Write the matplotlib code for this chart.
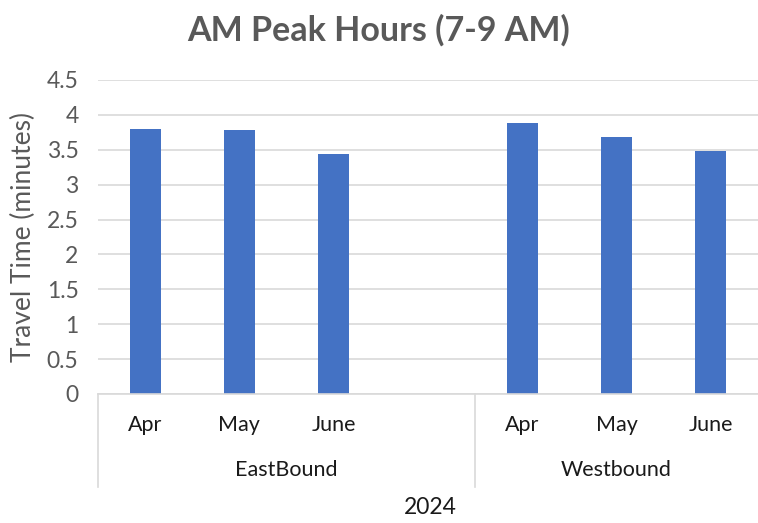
import matplotlib
matplotlib.use("Agg")
import matplotlib.pyplot as plt
import matplotlib.transforms as mtransforms
import numpy as np

plt.rcParams['font.family'] = ['Lato', 'DejaVu Sans']

title = "AM Peak Hours (7-9 AM)"
ylabel = "Travel Time (minutes)"
year = "2024"
groups = ["EastBound", "Westbound"]
month_labels = ["Apr", "May", "June", "", "Apr", "May", "June"]
group_of_slot = [0, 0, 0, 0, 1, 1, 1]
values = [3.80, 3.785, 3.44, np.nan, 3.885, 3.68, 3.48]
yticks = [0, 0.5, 1, 1.5, 2, 2.5, 3, 3.5, 4, 4.5]
ytick_labels = ["0", "0.5", "1", "1.5", "2", "2.5", "3", "3.5", "4", "4.5"]

bar_color = "#4472C4"
grid_color = "#D9D9D9"
text_gray = "#595959"
text_dark = "#1a1a1a"

W, H = 758, 523
fig = plt.figure(figsize=(W / 100, H / 100), dpi=100)
ax = fig.add_axes([98 / W, (H - 394) / H, 1 - 98 / W, (394 - 80) / H])

x = np.arange(len(month_labels))
ax.bar(x, values, width=0.33, color=bar_color, zorder=3)

ax.set_xlim(-0.5, len(month_labels) - 0.5)
ax.set_ylim(0, 4.5)
ax.set_yticks(yticks)
ax.set_yticklabels(ytick_labels, fontsize=16.5, color=text_gray)
ax.tick_params(axis='y', length=0, pad=14)
ax.set_xticks([])
ax.yaxis.grid(True, color=grid_color, linewidth=1.2, zorder=0)
for s in ax.spines.values():
    s.set_visible(False)
ax.set_ylabel(ylabel, fontsize=19, color=text_gray, labelpad=8)

trans = mtransforms.blended_transform_factory(ax.transData, ax.transAxes)
ax.plot([-0.5, len(month_labels) - 0.5], [0, 0], transform=trans, color=grid_color,
        linewidth=1.2, clip_on=False, zorder=4)
line_bottom = -0.296
bounds = [-0.5]
for i in range(1, len(group_of_slot)):
    if group_of_slot[i] != group_of_slot[i - 1]:
        bounds.append(i - 0.5)
for b in bounds:
    ax.plot([b, b], [0, line_bottom], transform=trans, color=grid_color,
            linewidth=1.2, clip_on=False)

for xi, lab in zip(x, month_labels):
    if lab:
        ax.text(xi, -0.099, lab, transform=trans, ha='center', va='center',
                fontsize=15.5, color=text_dark)

for gi, g in enumerate(groups):
    slots = [i for i, s in enumerate(group_of_slot) if s == gi]
    cx = (slots[0] + slots[-1]) / 2
    ax.text(cx, -0.242, g, transform=trans, ha='center', va='center',
            fontsize=15.5, color=text_dark)

fig.text(430 / W, (H - 508) / H, year, ha='center', va='center', fontsize=16.5, color=text_dark)

fig.text(0.5, (H - 30) / H, title, ha='center', va='center', fontsize=24.5,
         fontweight='bold', color=text_gray)

fig.savefig("out.png", dpi=100)
